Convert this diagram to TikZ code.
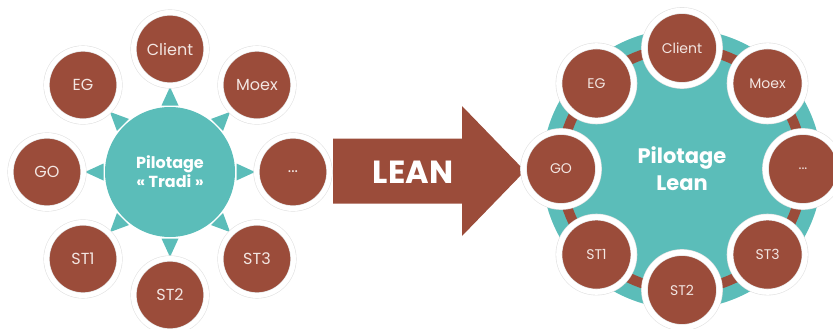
\documentclass[tikz,border=0pt]{standalone}
\usepackage{fontspec}
\setmainfont{Poppins}
\definecolor{rust}{HTML}{9B4C3A}
\definecolor{tealc}{HTML}{5BBDB9}
\definecolor{paletext}{HTML}{F3E6E2}
\definecolor{ringgray}{HTML}{E2E2E2}
\begin{document}
\begin{tikzpicture}[x=1pt,y=-1pt,
  satl/.style={circle, fill=rust, minimum size=73pt, inner sep=0pt,
    draw=ringgray, line width=0.6pt, double=white, double distance=5pt,
    text=paletext, font=\fontsize{16}{19}\selectfont},
  satr/.style={circle, fill=rust, minimum size=75pt, inner sep=0pt,
    draw=ringgray, line width=0.6pt, double=white, double distance=5.5pt,
    text=paletext, font=\fontsize{14}{17}\selectfont},
  hub/.style={circle, fill=tealc, inner sep=0pt, text=white, align=center},
  tri/.style={fill=tealc},
]
\useasboundingbox (0,0) rectangle (833,329);
% ---------- left: traditional steering ----------
\coordinate (L) at (170,172);
\foreach \a in {0,45,...,315}
  \fill[tri, shift={(L)}, rotate=\a] (85,0) -- (66.5,-8.5) -- (66.5,8.5) -- cycle;
\node[hub, minimum size=130pt, font=\bfseries\fontsize{16}{19}\selectfont] (lhub) at (L) {Pilotage\\«~Tradi~»};
\node[satl] (lclient) at ([shift={(270:123)}]L) {Client};
\node[satl] (lmoex)   at ([shift={(315:123)}]L) {Moex};
\node[satl] (ldots)   at ([shift={(0:123)}]L)   {...};
\node[satl] (lst3)    at ([shift={(45:123)}]L)  {ST3};
\node[satl] (lst2)    at ([shift={(90:123)}]L)  {ST2};
\node[satl] (lst1)    at ([shift={(135:123)}]L) {ST1};
\node[satl] (lgo)     at ([shift={(180:123)}]L) {GO};
\node[satl] (leg)     at ([shift={(225:123)}]L) {EG};
% ---------- arrow ----------
\fill[rust] (333,138.5) -- (462,138.5) -- (462,106) -- (525,171) -- (462,236) -- (462,203.5) -- (333,203.5) -- cycle;
\node[text=white, font=\bfseries\fontsize{32}{36}\selectfont] (lean) at (413,172) {LEAN};
% ---------- right: lean steering ----------
\coordinate (R) at (682,169);
\node[hub, minimum size=280pt] (rhub) at (R) {};
\draw[rust, line width=10pt] (R) circle[radius=121];
\node[satr] (rclient) at ([shift={(270:121)}]R) {Client};
\node[satr] (rmoex)   at ([shift={(315:121)}]R) {Moex};
\node[satr] (rdots)   at ([shift={(0:121)}]R)   {...};
\node[satr] (rst3)    at ([shift={(45:121)}]R)  {ST3};
\node[satr] (rst2)    at ([shift={(90:121)}]R)  {ST2};
\node[satr] (rst1)    at ([shift={(135:121)}]R) {ST1};
\node[satr] (rgo)     at ([shift={(180:121)}]R) {GO};
\node[satr] (reg)     at ([shift={(225:121)}]R) {EG};
\node[text=white, align=center, font=\bfseries\fontsize{21}{27}\selectfont] (rlabel) at (R) {Pilotage\\Lean};
\end{tikzpicture}
\end{document}
